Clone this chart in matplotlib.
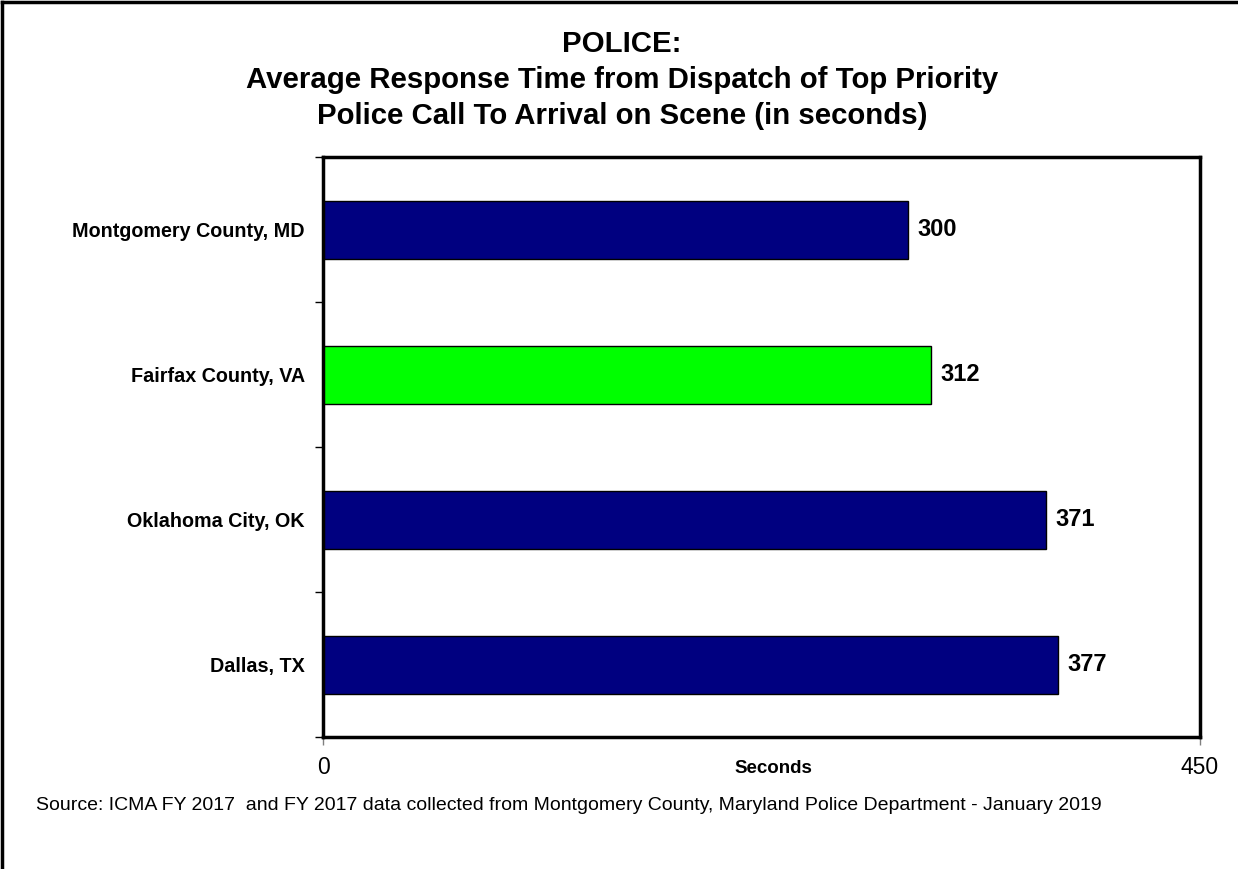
import matplotlib.pyplot as plt
from matplotlib.lines import Line2D

places = ["Montgomery County, MD", "Fairfax County, VA", "Oklahoma City, OK", "Dallas, TX"]
seconds = [300, 312, 371, 377]
bar_colors = ["#000080", "#00FF00", "#000080", "#000080"]

sans = ["Liberation Sans", "DejaVu Sans"]

fig = plt.figure(figsize=(12.38, 8.69), dpi=100)
ax = fig.add_axes([323 / 1238, 1 - 737 / 869, 877 / 1238, 580 / 869])

pos = list(range(len(places)))
ax.barh(pos, seconds, height=0.4, color=bar_colors, edgecolor="black", linewidth=1)
ax.set_ylim(len(places) - 0.5, -0.5)
ax.set_xlim(0, 450)

for p, v in zip(pos, seconds):
    ax.text(v + 5, p, str(v), va="center", ha="left", fontsize=17,
            fontweight="bold", family=sans)

ax.set_yticks(pos)
ax.set_yticklabels(places, fontsize=14.2, fontweight="bold", family=sans)
ax.tick_params(axis="y", length=0, pad=13)
ax.set_yticks([i - 0.5 for i in range(len(places) + 1)], minor=True)
ax.tick_params(axis="y", which="minor", length=6, width=1, direction="out")

ax.set_xticks([0, 450])
ax.set_xticklabels(["0", "450"], fontsize=16.5, family=sans)
ax.tick_params(axis="x", length=6, width=1, direction="out", pad=8, color="#808080",
               labelcolor="black")
ax.set_xlabel("Seconds", fontsize=13.5, fontweight="bold", family=sans)
ax.xaxis.set_label_coords(0.514, -0.04)

for s in ax.spines.values():
    s.set_linewidth(2.5)

title_lines = ["POLICE:",
               "Average Response Time from Dispatch of Top Priority",
               "Police Call To Arrival on Scene (in seconds)"]
for ty, line in zip([44, 80, 116], title_lines):
    fig.text(622 / 1238, 1 - ty / 869, line, ha="center", va="center",
             fontsize=21.2, fontweight="bold", family=sans)

fig.text(36 / 1238, 1 - 806 / 869,
         "Source: ICMA FY 2017  and FY 2017 data collected from Montgomery County, Maryland Police Department - January 2019",
         ha="left", va="center", fontsize=14, family=sans)

# outer frame, top and left only
fig.add_artist(Line2D([0.002, 0.002], [0, 0.998], transform=fig.transFigure, color="black", lw=2.5))
fig.add_artist(Line2D([0.002, 1], [0.998, 0.998], transform=fig.transFigure, color="black", lw=2.5))

fig.savefig("out.png", dpi=100)
